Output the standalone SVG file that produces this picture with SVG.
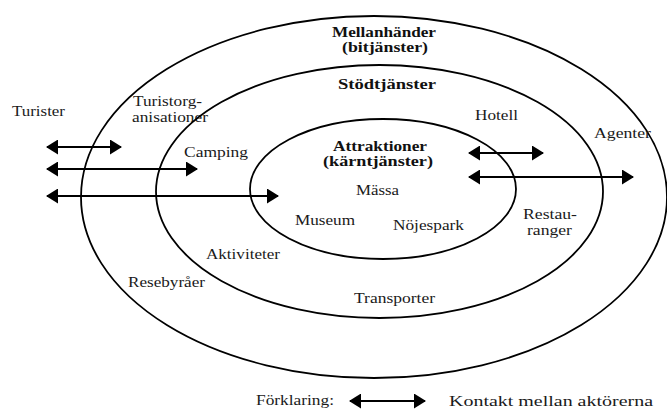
<svg xmlns="http://www.w3.org/2000/svg" width="667" height="410" viewBox="0 0 667 410">
  <style>
    .ring { fill: none; stroke: #000; stroke-width: 1.8; }
    text { font-family: 'Liberation Serif', 'DejaVu Serif', 'Times New Roman', serif; }
    .t { font-size: 15.5px; fill: #1a1a1a; }
    .b { font-size: 14.5px; font-weight: bold; fill: #111; }
    .arr { stroke: #000; stroke-width: 2; fill: none; marker-start: url(#ah); marker-end: url(#ah); }
  </style>
  <defs>
    <marker id="ah" viewBox="0 0 12 15" refX="11" refY="7.5" markerWidth="12" markerHeight="15" markerUnits="userSpaceOnUse" orient="auto-start-reverse">
      <path d="M0,0 L12,7.5 L0,15 z" fill="#000"/>
    </marker>
  </defs>
  <rect width="667" height="410" fill="#fff"/>

  <g id="mellanhander">
    <ellipse class="ring" cx="374" cy="197" rx="293" ry="181"/>
    <text class="b" x="332" y="37" textLength="104" lengthAdjust="spacingAndGlyphs">Mellanhänder</text>
    <text class="b" x="342" y="52" textLength="86" lengthAdjust="spacingAndGlyphs">(bitjänster)</text>
    <text class="t" x="133" y="106" textLength="69" lengthAdjust="spacingAndGlyphs">Turistorg-</text>
    <text class="t" x="132" y="122" textLength="76" lengthAdjust="spacingAndGlyphs">anisationer</text>
    <text class="t" x="594" y="138" textLength="57" lengthAdjust="spacingAndGlyphs">Agenter</text>
    <text class="t" x="128" y="287" textLength="77" lengthAdjust="spacingAndGlyphs">Resebyråer</text>
  </g>

  <g id="stodtjanster">
    <ellipse class="ring" cx="379.5" cy="191.5" rx="223.5" ry="126.5"/>
    <text class="b" x="338" y="89" textLength="98" lengthAdjust="spacingAndGlyphs">Stödtjänster</text>
    <text class="t" x="475" y="120" textLength="43" lengthAdjust="spacingAndGlyphs">Hotell</text>
    <text class="t" x="184" y="157" textLength="64" lengthAdjust="spacingAndGlyphs">Camping</text>
    <text class="t" x="523" y="219" textLength="54" lengthAdjust="spacingAndGlyphs">Restau-</text>
    <text class="t" x="527" y="235" textLength="45" lengthAdjust="spacingAndGlyphs">ranger</text>
    <text class="t" x="206" y="259" textLength="74" lengthAdjust="spacingAndGlyphs">Aktiviteter</text>
    <text class="t" x="354" y="303" textLength="81" lengthAdjust="spacingAndGlyphs">Transporter</text>
  </g>

  <g id="attraktioner">
    <ellipse class="ring" cx="383" cy="189" rx="133" ry="70"/>
    <text class="b" x="333" y="151" textLength="94" lengthAdjust="spacingAndGlyphs">Attraktioner</text>
    <text class="b" x="323" y="166" textLength="110" lengthAdjust="spacingAndGlyphs">(kärntjänster)</text>
    <text class="t" x="356" y="195" textLength="43" lengthAdjust="spacingAndGlyphs">Mässa</text>
    <text class="t" x="295" y="225" textLength="60" lengthAdjust="spacingAndGlyphs">Museum</text>
    <text class="t" x="393" y="230" textLength="71" lengthAdjust="spacingAndGlyphs">Nöjespark</text>
  </g>

  <g id="turister">
    <text class="t" x="12" y="116" textLength="53" lengthAdjust="spacingAndGlyphs">Turister</text>
  </g>

  <g id="connectors">
    <line class="arr" x1="47" y1="147" x2="121" y2="147"/>
    <line class="arr" x1="47" y1="169" x2="197" y2="169"/>
    <line class="arr" x1="47" y1="196" x2="278" y2="196"/>
    <line class="arr" x1="469" y1="153" x2="543" y2="153"/>
    <line class="arr" x1="469" y1="177" x2="633" y2="177"/>
  </g>

  <g id="legend">
    <text class="t" x="256" y="405" textLength="78" lengthAdjust="spacingAndGlyphs">Förklaring:</text>
    <line class="arr" x1="350" y1="401" x2="425" y2="401"/>
    <text class="t" x="449" y="406" textLength="204" lengthAdjust="spacingAndGlyphs">Kontakt mellan aktörerna</text>
  </g>
</svg>
